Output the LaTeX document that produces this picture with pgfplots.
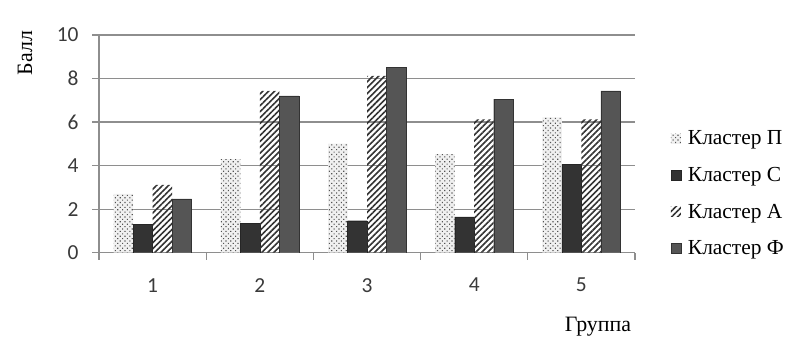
\documentclass[border=0pt]{standalone}
\usepackage{fontspec}
\setmainfont{Liberation Serif}
\newfontfamily\carlito{Carlito}
\usepackage{pgfplots}
\pgfplotsset{compat=1.18}
\usetikzlibrary{patterns.meta}
\definecolor{gridc}{HTML}{8E8E8E}
\definecolor{darkC}{HTML}{333333}
\definecolor{darkF}{HTML}{555555}
\definecolor{ticktext}{HTML}{3A3A3A}
\begin{document}
\begin{tikzpicture}[x=1bp,y=1bp]
\useasboundingbox (0,0) rectangle (800,342);
\begin{axis}[
  at={(99bp,89.3bp)}, anchor=south west,
  scale only axis, width=536bp, height=217.7bp,
  xmin=0.5, xmax=5.5, ymin=0, ymax=10,
  axis x line*=bottom, axis y line*=left,
  axis line style={gridc, line width=1.3bp},
  ybar=0pt, bar width=19.5bp,
  xtick={1,2,3,4,5},
  major x tick style={draw=none},
  minor xtick={0.5,1.5,2.5,3.5,4.5,5.5},
  ytick={0,2,4,6,8,10},
  ymajorgrids,
  grid style={gridc, line width=1.3bp},
  tick align=outside, major tick length=7bp, minor tick length=7bp,
  tick style={gridc, line width=1.3bp},
  /pgf/number format/assume math mode=true,
  ticklabel style={font=\carlito\fontsize{21.5}{25}\selectfont, text=ticktext},
  xticklabel style={yshift=-15bp},
  yticklabel style={xshift=-10bp},
  legend style={draw=none, fill=none, at={(1.066,0.57)}, anchor=north west,
    font=\fontsize{21.5}{25}\selectfont, row sep=17bp, inner sep=0pt,
    /tikz/every odd column/.append style={column sep=5bp}},
  legend cell align=left,
  legend image code/.code={\path[#1] (0bp,-5bp) rectangle (10bp,5bp);},
]
\addplot[fill=gray!12, draw=none, postaction={pattern={Dots[distance=3.4bp, radius=0.8bp, angle=45]}, pattern color=gray!65!black}]
  coordinates {(1,2.70) (2,4.30) (3,5.01) (4,4.53) (5,6.22)};
\addlegendentry{Кластер П}
\addplot[fill=darkC, draw=black!85]
  coordinates {(1,1.30) (2,1.35) (3,1.47) (4,1.65) (5,4.06)};
\addlegendentry{Кластер С}
\addplot[draw=none, pattern={Lines[angle=45, distance=4.2bp, line width=1.6bp]}, pattern color=darkC]
  coordinates {(1,3.11) (2,7.43) (3,8.12) (4,6.13) (5,6.13)};
\addlegendentry{Кластер А}
\addplot[fill=darkF, draw=darkC]
  coordinates {(1,2.47) (2,7.20) (3,8.50) (4,7.05) (5,7.43)};
\addlegendentry{Кластер Ф}
\end{axis}
\node[rotate=90, font=\fontsize{22}{26}\selectfont] at (25,289) {Балл};
\node[font=\fontsize{22}{26}\selectfont] at (598,15) {Группа};
\end{tikzpicture}
\end{document}
